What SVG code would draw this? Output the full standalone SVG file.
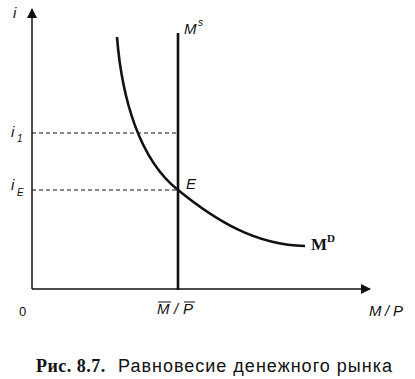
<svg xmlns="http://www.w3.org/2000/svg" width="415" height="379" viewBox="0 0 415 379">
<style>
.lab{font-family:"Liberation Sans",Arial,sans-serif;font-style:italic;font-size:15px;fill:#111}
.sub{font-family:"Liberation Sans",Arial,sans-serif;font-style:italic;font-size:10px;fill:#111}
.axis{stroke:#111;stroke-width:1.5;fill:none}
.thick{stroke:#111;stroke-width:2.6;fill:none}
.dash{stroke:#111;stroke-width:1;stroke-dasharray:4 3;fill:none}
</style>
<defs>
<marker id="arr" viewBox="0 0 10 10" refX="9" refY="5" markerWidth="10" markerHeight="10" markerUnits="userSpaceOnUse" orient="auto">
<path d="M0,0 L10,5 L0,10 z" fill="#111"/>
</marker>
</defs>
<rect width="415" height="379" fill="#fff"/>
<g id="connectors">
<line class="axis" x1="32" y1="289" x2="32" y2="9" marker-end="url(#arr)"/>
<line class="axis" x1="32" y1="289" x2="370" y2="289" marker-end="url(#arr)"/>
<line class="dash" x1="32" y1="133" x2="178" y2="133"/>
<line class="dash" x1="32" y1="190" x2="178" y2="190"/>
</g>
<g id="ms">
<line class="thick" x1="178" y1="33" x2="178" y2="290"/>
<text class="lab" x="184" y="34">M</text>
<text class="sub" x="198" y="26">s</text>
</g>
<g id="md">
<path class="thick" d="M117,37 C122,100 140,160 178,190 C215,220 255,245 305,246"/>
<text x="311" y="250" style="font-family:'Liberation Serif',serif;font-weight:bold;font-size:17px;fill:#111">M</text>
<text x="327" y="242" style="font-family:'Liberation Serif',serif;font-weight:bold;font-size:11px;fill:#111">D</text>
</g>
<g id="e">
<text class="lab" x="186" y="189">E</text>
</g>
<g id="labels">
<text class="lab" x="13" y="18">i</text>
<text class="lab" x="11" y="137">i</text>
<text class="sub" x="17" y="142">1</text>
<text class="lab" x="11" y="190">i</text>
<text class="sub" x="17" y="196">E</text>
<text x="19" y="316" style="font-family:'Liberation Sans',Arial,sans-serif;font-size:13px;fill:#111">0</text>
<text class="lab" x="157" y="314">M</text>
<text class="lab" x="174" y="314">/</text>
<text class="lab" x="183" y="314">P</text>
<line x1="158" y1="302" x2="171" y2="302" stroke="#111" stroke-width="1"/>
<line x1="184" y1="302" x2="195" y2="302" stroke="#111" stroke-width="1"/>
<text class="lab" x="369" y="316">M</text>
<text class="lab" x="385" y="316">/</text>
<text class="lab" x="393" y="316">P</text>
</g>
<g id="caption">
<text x="36" y="372" style="font-family:'Liberation Serif',serif;font-weight:bold;font-size:18px;fill:#111;letter-spacing:0.5px">Рис. 8.7.</text>
<text x="118" y="372" style="font-family:'Liberation Sans',Arial,sans-serif;font-size:18px;fill:#111;letter-spacing:1px">Равновесие денежного рынка</text>
</g>
</svg>
